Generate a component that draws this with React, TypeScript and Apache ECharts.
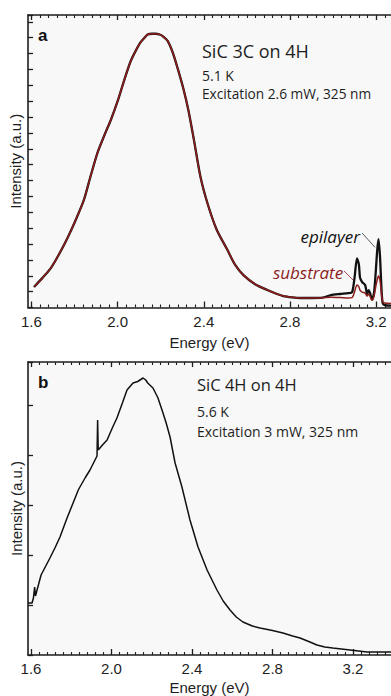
import React, { useEffect, useRef } from 'react';
import * as echarts from 'echarts';

// ---------- Panel a: SiC 3C on 4H ----------
const energyA = [1.612, 1.65, 1.69, 1.73, 1.769, 1.805, 1.843, 1.875, 1.908, 1.94, 1.968, 2.0, 2.03, 2.06, 2.085, 2.106, 2.125, 2.139, 2.16, 2.176, 2.195, 2.209, 2.232, 2.255, 2.278, 2.305, 2.329, 2.355, 2.385, 2.417, 2.46, 2.51, 2.545, 2.584, 2.64, 2.695, 2.74, 2.769, 2.81, 2.848, 2.9, 2.95];
const sharedA = [1.29, 1.85, 2.48, 3.4, 4.43, 5.5, 6.76, 8.3, 9.8, 10.9, 11.8, 13.0, 14.3, 15.5, 16.2, 16.7, 17.0, 17.2, 17.25, 17.25, 17.2, 17.1, 16.8, 16.1, 15.1, 13.8, 12.4, 10.5, 8.2, 6.57, 4.9, 3.62, 2.7, 2.04, 1.45, 1.1, 0.85, 0.72, 0.64, 0.6, 0.6, 0.62];
const tailEnergyA = [2.99, 3.033, 3.07, 3.088, 3.1, 3.111, 3.12, 3.125, 3.135, 3.149, 3.158, 3.165, 3.172, 3.181, 3.19, 3.198, 3.205, 3.211, 3.218, 3.224, 3.23, 3.24, 3.269];
const epilayerTailA = [0.78, 0.85, 0.9, 0.95, 1.9, 3.1, 2.7, 1.9, 1.6, 1.42, 0.85, 1.1, 0.9, 0.5, 0.9, 2.2, 3.6, 4.3, 3.2, 1.4, 0.3, 0.15, 0.12];
const substrateTailA = [0.65, 0.63, 0.6, 0.62, 1.0, 1.42, 1.3, 1.1, 0.97, 0.91, 0.72, 0.85, 0.7, 0.45, 0.7, 1.3, 1.75, 1.98, 1.7, 1.0, 0.35, 0.28, 0.25];

// ---------- Panel b: SiC 4H on 4H ----------
const energyB = [1.585, 1.605, 1.612, 1.618, 1.622, 1.65, 1.694, 1.72, 1.744, 1.78, 1.809, 1.835, 1.843, 1.87, 1.893, 1.928, 1.931, 1.934, 1.955, 1.978, 2.005, 2.027, 2.055, 2.077, 2.107, 2.13, 2.157, 2.17, 2.18, 2.206, 2.23, 2.251, 2.271, 2.291, 2.316, 2.35, 2.39, 2.43, 2.475, 2.524, 2.555, 2.589, 2.62, 2.653, 2.7, 2.738, 2.8, 2.852, 2.9, 2.937, 2.98, 3.021, 3.06, 3.1, 3.185, 3.27, 3.39];
const intensityB = [1.04, 1.04, 1.14, 1.36, 1.18, 1.6, 1.94, 2.15, 2.36, 2.75, 3.04, 3.3, 3.36, 3.55, 3.7, 3.98, 4.7, 4.1, 4.2, 4.3, 4.55, 4.74, 5.05, 5.3, 5.44, 5.47, 5.54, 5.5, 5.44, 5.34, 5.15, 4.9, 4.65, 4.36, 3.84, 3.36, 2.7, 2.16, 1.7, 1.3, 1.08, 0.9, 0.76, 0.66, 0.58, 0.54, 0.49, 0.44, 0.38, 0.34, 0.27, 0.2, 0.16, 0.14, 0.1, 0.06, 0.06];

// ---------- Axis ticks ----------
const majorTicks = [1.6, 2.0, 2.4, 2.8, 3.2];
const minorStep = 0.04;
const rangeA = [1.584, 3.269];
const rangeB = [1.585, 3.389];
const yMaxA = 18.43;
const yMaxB = 5.86;

const texts = {
  panelA: 'a',
  panelB: 'b',
  titleA: 'SiC 3C on 4H',
  tempA: '5.1 K',
  excA: 'Excitation 2.6 mW, 325 nm',
  titleB: 'SiC 4H on 4H',
  tempB: '5.6 K',
  excB: 'Excitation 3 mW, 325 nm',
  xName: 'Energy (eV)',
  yName: 'Intensity (a.u.)',
  epi: 'epilayer',
  sub: 'substrate',
};

function minorTicks(max: number) {
  const out: number[] = [];
  for (let k = 0; ; k++) {
    const v = +(1.6 + k * minorStep).toFixed(3);
    if (v > max) break;
    if (!majorTicks.some((m) => Math.abs(m - v) < 1e-6)) out.push(v);
  }
  return out;
}

const zip = (xs: number[], ys: number[]) => xs.map((x, i) => [x, ys[i]]);

const INK = '#1e1e1e';
const RED = '#8c1d1d';
const SANS = '"Liberation Sans", Arial, sans-serif';
const HUMAN = '"Open Sans", "Noto Sans", sans-serif';

function xAxes(gridIndex: number, range: number[], nameGap: number) {
  const base = { type: 'value', gridIndex, min: range[0], max: range[1], splitLine: { show: false } };
  const minors = minorTicks(range[1]);
  return [
    {
      ...base,
      position: 'bottom',
      name: texts.xName,
      nameLocation: 'middle',
      nameGap,
      nameTextStyle: { fontFamily: SANS, fontSize: 15, color: INK },
      axisLine: { show: true, onZero: false, lineStyle: { color: INK, width: 1.6 } },
      axisTick: { show: true, inside: true, length: 6, customValues: majorTicks, lineStyle: { color: INK, width: 1.3 } },
      axisLabel: { show: true, customValues: majorTicks, margin: 6, fontFamily: SANS, fontSize: 15, color: INK, formatter: (v: number) => v.toFixed(1) },
    },
    {
      ...base,
      position: 'bottom',
      axisLine: { show: false, onZero: false },
      axisTick: { show: true, inside: true, length: 3, customValues: minors, lineStyle: { color: INK, width: 1.1 } },
      axisLabel: { show: false },
    },
    {
      ...base,
      position: 'top',
      axisLine: { show: true, onZero: false, lineStyle: { color: INK, width: 1.6 } },
      axisTick: { show: true, inside: true, length: 5, customValues: majorTicks, lineStyle: { color: INK, width: 1.3 } },
      axisLabel: { show: false },
    },
    {
      ...base,
      position: 'top',
      axisLine: { show: false, onZero: false },
      axisTick: { show: true, inside: true, length: 3, customValues: minors, lineStyle: { color: INK, width: 1.1 } },
      axisLabel: { show: false },
    },
  ];
}

function yAxis(gridIndex: number, max: number, nameGap: number) {
  return {
    type: 'value',
    gridIndex,
    min: 0,
    max,
    interval: 1,
    position: 'left',
    name: texts.yName,
    nameLocation: 'middle',
    nameGap,
    nameTextStyle: { fontFamily: SANS, fontSize: 15, color: INK },
    splitLine: { show: false },
    axisLine: { show: true, onZero: false, lineStyle: { color: INK, width: 1.6 } },
    axisTick: { show: true, inside: true, length: 5, lineStyle: { color: INK, width: 1.3 } },
    axisLabel: { show: false },
  };
}

export default function App() {
  const ref = useRef<HTMLDivElement>(null);

  useEffect(() => {
    if (!ref.current) return;
    const chart = echarts.init(ref.current, null, { renderer: 'svg' });

    const option: any = {
      animation: false,
      backgroundColor: '#ffffff',
      grid: [
        { left: 27, top: 15, width: 364, height: 292.5, show: true, backgroundColor: '#f8f8f8', borderWidth: 0 },
        { left: 28, top: 362, width: 363, height: 293, show: true, backgroundColor: '#f8f8f8', borderWidth: 0 },
      ],
      xAxis: [...xAxes(0, rangeA, 27), ...xAxes(1, rangeB, 25)],
      yAxis: [yAxis(0, yMaxA, 5), yAxis(1, yMaxB, 4)],
      series: [
        {
          name: texts.epi,
          type: 'line',
          xAxisIndex: 0,
          yAxisIndex: 0,
          data: zip([...energyA, ...tailEnergyA], [...sharedA, ...epilayerTailA]),
          showSymbol: false,
          smooth: 0.25,
          lineStyle: { color: '#111', width: 2.3 },
          z: 3,
        },
        {
          name: texts.sub,
          type: 'line',
          xAxisIndex: 0,
          yAxisIndex: 0,
          data: zip([...energyA, ...tailEnergyA], [...sharedA, ...substrateTailA]),
          showSymbol: false,
          smooth: 0.25,
          lineStyle: { color: RED, width: 1.5 },
          z: 4,
        },
        {
          name: 'SiC 4H on 4H',
          type: 'line',
          xAxisIndex: 4,
          yAxisIndex: 1,
          data: zip(energyB, intensityB),
          showSymbol: false,
          lineStyle: { color: '#111', width: 1.5 },
          z: 3,
        },
      ],
    };
    chart.setOption(option);

    const pa = (p: number[]) => chart.convertToPixel({ xAxisIndex: 0, yAxisIndex: 0 }, p) as number[];
    const epiLabel = pa([3.125, 4.5]);
    const epiFrom = pa([3.135, 4.69]);
    const epiTo = pa([3.195, 3.79]);
    const subLabel = pa([3.047, 2.23]);
    const subFrom = pa([3.051, 2.3]);
    const subTo = pa([3.093, 1.73]);

    const txt = (x: number, y: number, text: string, font: string, fill = INK, align = 'left') => ({
      type: 'text',
      x,
      y,
      z: 10,
      style: { text, font, fill, align, verticalAlign: 'middle' },
    });

    chart.setOption({
      graphic: [
        txt(38, 35, texts.panelA, `bold 17px ${SANS}`, '#111'),
        txt(202, 51, texts.titleA, `18px ${HUMAN}`),
        txt(202, 75, texts.tempA, `14px ${HUMAN}`),
        txt(202, 93, texts.excA, `13.7px ${HUMAN}`),
        txt(38, 382, texts.panelB, `bold 17px ${SANS}`, '#111'),
        txt(197, 384, texts.titleB, `16.5px ${HUMAN}`),
        txt(197, 411, texts.tempB, `14px ${HUMAN}`),
        txt(197, 431, texts.excB, `14px ${HUMAN}`),
        txt(epiLabel[0], epiLabel[1], texts.epi, `italic 17px ${HUMAN}`, '#111', 'right'),
        txt(subLabel[0], subLabel[1], texts.sub, `italic 17px ${HUMAN}`, RED, 'right'),
        {
          type: 'line',
          z: 10,
          shape: { x1: epiFrom[0], y1: epiFrom[1], x2: epiTo[0], y2: epiTo[1] },
          style: { stroke: '#333', lineWidth: 0.8 },
        },
        {
          type: 'line',
          z: 10,
          shape: { x1: subFrom[0], y1: subFrom[1], x2: subTo[0], y2: subTo[1] },
          style: { stroke: RED, lineWidth: 0.8 },
        },
      ],
    });

    return () => chart.dispose();
  }, []);

  return (
    <div
      ref={ref}
      style={{ position: 'absolute', left: 0, top: 0, width: 391, height: 696, background: '#fff' }}
    />
  );
}
